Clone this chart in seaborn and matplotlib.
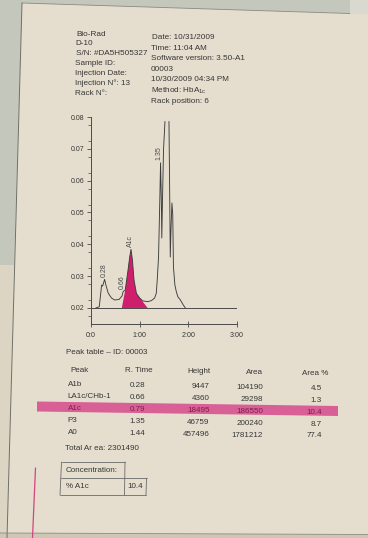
import numpy as np
import pandas as pd
import matplotlib
matplotlib.use("Agg")
import matplotlib.pyplot as plt
from matplotlib.patches import Polygon
from matplotlib.lines import Line2D
import seaborn as sns

# Chromatogram trace (time in minutes, absorbance)
trace_time = [0.10, 0.17, 0.218, 0.239, 0.28, 0.306, 0.353, 0.422, 0.49, 0.578,
              0.639, 0.659, 0.704, 0.761, 0.796, 0.822, 0.851, 0.884, 0.933, 1.0,
              1.067, 1.169, 1.239, 1.306, 1.341, 1.361, 1.388, 1.414, 1.429, 1.445,
              1.455, 1.469, 1.49, 1.52,
              1.602, 1.618, 1.629, 1.643, 1.663, 1.68, 1.694, 1.724, 1.755, 1.786,
              1.837, 1.898, 1.939]
trace_abs = [0.0200, 0.0204, 0.0272, 0.0269, 0.0290, 0.0272, 0.0247, 0.0231, 0.0225, 0.0227,
             0.0238, 0.0251, 0.0257, 0.0319, 0.0361, 0.0384, 0.0351, 0.0288, 0.0246, 0.0231,
             0.0222, 0.0220, 0.0223, 0.0231, 0.0246, 0.0288, 0.0361, 0.0540, 0.0656, 0.0540,
             0.0420, 0.0540, 0.0697, 0.0786,
             0.0786, 0.0540, 0.0360, 0.0445, 0.0530, 0.0492, 0.0329, 0.0272, 0.0250, 0.0235,
             0.0225, 0.0209, 0.0200]
# the A0 peak runs off scale, the print leaves the top open
trace_segment = [0] * 34 + [1] * 13
baseline_level = 0.02

# integrated A1c area (shaded)
a1c_start, a1c_end = 0.633, 1.163
a1c_trace_from, a1c_trace_to = 0.70, 0.94

peak_labels = ["0.28", "0.66", "A1c", "1.35"]
label_time = [0.27, 0.64, 0.82, 1.40]
label_level = [0.0290, 0.0251, 0.0384, 0.0656]

y_ticks = [0.02, 0.03, 0.04, 0.05, 0.06, 0.07, 0.08]
x_ticks = [0, 1, 2, 3]
x_ticklabels = ["0:0", "1:00", "2:00", "3:00"]

header_left = ["Bio-Rad", "D-10", "S/N: #DA5H505327", "Sample ID:",
               "Injection Date:", "Injection N°: 13", "Rack N°:"]
header_right = ["Date: 10/31/2009", "Time: 11:04 AM", "Software version: 3.50-A1",
                "00003", "10/30/2009 04:34 PM", r"Method: HbA$_{\mathrm{1c}}$",
                "Rack position: 6"]

peaks = ["A1b", "LA1c/CHb-1", "A1c", "P3", "A0"]
r_time = ["0.28", "0.66", "0.79", "1.35", "1.44"]
height = [9447, 4360, 18495, 46759, 457496]
area = [104190, 29298, 186550, 200240, 1781212]
area_pct = ["4.5", "1.3", "10.4", "8.7", "77.4"]
total_area = 2301490
conc_a1c = "10.4"

W, H = 368, 538
PAPER = "#e5dece"
INK = "#363636"
PINK_FILL = "#cf1f6c"
PINK_BAND = "#d85592"
FS_HEAD = 5.9
FS_TAB = 5.8


def fx(x, y):
    return x / W, 1 - y / H


def put(fig, x, y, s, **kw):
    kw.setdefault("color", INK)
    kw.setdefault("fontsize", FS_TAB)
    kw.setdefault("va", "center")
    fig.text(x / W, 1 - y / H, s, **kw)


def poly(fig, pts, **kw):
    fig.patches.append(Polygon([fx(*p) for p in pts], closed=True,
                               transform=fig.transFigure, **kw))


def line(fig, pts, **kw):
    xs, ys = zip(*[fx(*p) for p in pts])
    fig.lines.append(Line2D(xs, ys, transform=fig.transFigure, **kw))


sns.set_theme(style="white")
plt.rcParams["font.family"] = ["Liberation Sans", "DejaVu Sans"]
plt.rcParams["mathtext.fontset"] = "custom"
plt.rcParams["mathtext.rm"] = "Liberation Sans"

fig = plt.figure(figsize=(W / 100, H / 100), dpi=100, facecolor=PAPER)

# photo surroundings: table behind the sheet, sheet edges
poly(fig, [(0, 0), (350, 0), (350, 13.5), (22, 3), (14, 265), (0, 265)], color="#c4c8bc", lw=0)
poly(fig, [(350, 0), (368, 0), (368, 14.5), (350, 13.5)], color="#d9d9d0", lw=0)
poly(fig, [(14, 265), (7, 538), (0, 538), (0, 265)], color="#ddd5c3", lw=0)
poly(fig, [(0, 533), (368, 534.5), (368, 538), (0, 538)], color="#cfc7b6", lw=0)
line(fig, [(22, 3), (350, 13.5)], color="#8a8a84", lw=0.6)
line(fig, [(22, 3), (7, 538)], color="#6f6f69", lw=0.7)
line(fig, [(0, 533), (368, 534.5)], color="#8f8a80", lw=0.6)
line(fig, [(35.5, 468), (32.5, 538)], color="#d2457f", lw=0.9)

# header block
for i, s in enumerate(header_left):
    put(fig, 76 - i * 0.2, 34 + i * 9.9, s, fontsize=FS_HEAD)
for i, s in enumerate(header_right):
    put(fig, 151.5 - i * 0.15, 37.5 + i * 10.6, s, fontsize=FS_HEAD)

# chromatogram
ax = fig.add_axes([91 / W, (H - 323.5) / H, 146 / W, (323.5 - 117) / H])
ax.set_facecolor("none")
ax.set_xlim(0, 3)
ax.set_ylim(baseline_level - 15.5 / 3180, 0.08)

df = pd.DataFrame({"time": trace_time, "absorbance": trace_abs, "seg": trace_segment})
ax.plot([0, 3], [baseline_level, baseline_level], color="#4a4a4a", lw=0.7)

core = df[(df["time"] >= a1c_trace_from) & (df["time"] <= a1c_trace_to)]
fill_x = [a1c_start] + core["time"].tolist() + [a1c_end]
fill_y = [baseline_level] + core["absorbance"].tolist() + [baseline_level]
ax.fill(fill_x, fill_y, color=PINK_FILL, lw=0, zorder=2)

sns.lineplot(data=df, x="time", y="absorbance", units="seg", estimator=None,
             sort=False, color="#3c3c3c", lw=0.65, ax=ax, zorder=3)

for s, t, v in zip(peak_labels, label_time, label_level):
    ax.annotate(s, (t, v), xytext=(0, 2), textcoords="offset points",
                rotation=90, ha="center", va="bottom", fontsize=5.0, color="#4a4a4a")

sns.despine(ax=ax)
for side in ["left", "bottom"]:
    ax.spines[side].set_color("#4a4a4a")
    ax.spines[side].set_linewidth(0.7)
ax.set_xticks(x_ticks)
ax.set_xticklabels(x_ticklabels)
ax.set_yticks(y_ticks)
ax.set_yticklabels([f"{v:.2f}" for v in y_ticks])
ax.set_yticks(np.arange(0.0175, 0.08, 0.005), minor=True)
ax.tick_params(axis="y", which="major", direction="out", length=3, width=0.6,
               color="#4a4a4a", labelsize=5.0, labelcolor=INK, pad=1.5, left=True)
ax.tick_params(axis="y", which="minor", direction="out", length=2, width=0.5,
               color="#4a4a4a", left=True)
ax.tick_params(axis="x", which="major", direction="inout", length=4, width=0.6,
               color="#4a4a4a", labelsize=5.1, labelcolor=INK, pad=4, bottom=True)
ax.set_xlabel("")
ax.set_ylabel("")
ax.grid(False)

# peak table
put(fig, 66, 353, "Peak table \u2013 ID: 00003")

poly(fig, [(37, 401.5), (338, 406), (338, 416), (37, 411.5)], color=PINK_BAND, lw=0, alpha=0.92)


def tilt(x, y):
    return y + 0.013 * (x - 68)


hdr = [("Peak", 70, "left"), ("R. Time", 138.5, "center"), ("Height", 210, "right"),
       ("Area", 263, "right"), ("Area %", 328, "right")]
for s, x, ha in hdr:
    put(fig, x, tilt(x, 370), s, ha=ha)

for i in range(len(peaks)):
    y0 = 385 + 11.9 * i
    col = "#7c1f4c" if peaks[i] == "A1c" else INK
    cells = [(peaks[i], 67.5, "left"), (r_time[i], 137.5, "center"),
             (str(height[i]), 209.5, "right"), (str(area[i]), 263, "right"),
             (area_pct[i], 322, "right")]
    for s, x, ha in cells:
        put(fig, x, tilt(x, y0), s, ha=ha, color=col)

put(fig, 65, 448.5, f"Total Ar ea: {total_area}")

# concentration box
box_kw = dict(color="#6a6a6a", lw=0.6)
line(fig, [(61.5, 462), (125, 462)], **box_kw)
line(fig, [(61.5, 462), (60, 495)], **box_kw)
line(fig, [(125, 462), (124.5, 495)], **box_kw)
line(fig, [(61, 478.3), (146.5, 478.3)], **box_kw)
line(fig, [(146.5, 478.3), (146, 495)], **box_kw)
line(fig, [(60, 495), (146, 495)], **box_kw)
put(fig, 66, 470, "Concentration:")
put(fig, 65.5, 487, "% A1c")
put(fig, 127, 486.5, conc_a1c)

fig.savefig("out.png", dpi=100, facecolor=fig.get_facecolor())
